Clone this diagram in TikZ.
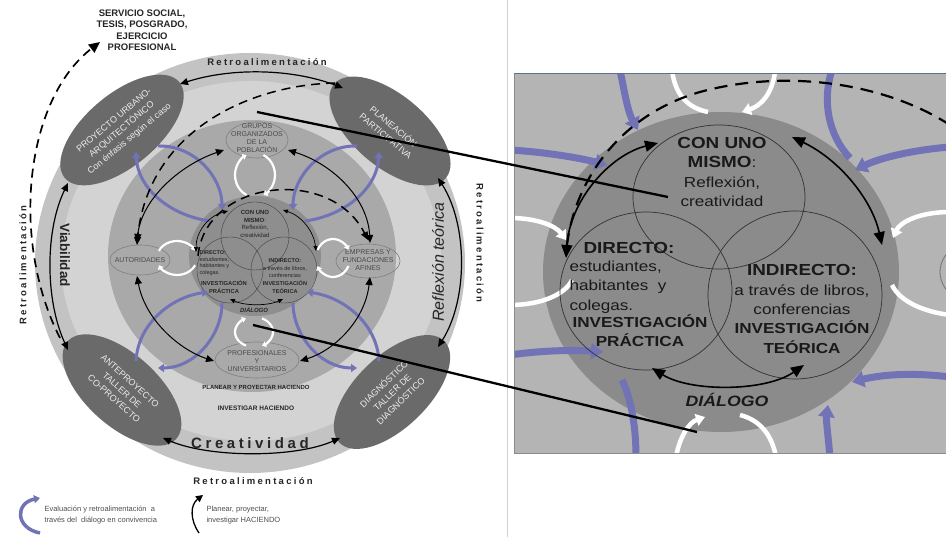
\documentclass[tikz,border=0pt]{standalone}
\usepackage{fontspec}
\setmainfont{Liberation Sans}
\newfontfamily\spacedfont[LetterSpace=24]{Liberation Sans}
\newfontfamily\panelfont[FakeStretch=1.18]{Liberation Sans}
\usetikzlibrary{shapes.geometric,arrows.meta}
\newcommand\myfs[2]{\fontsize{#1}{#2}\selectfont}
\definecolor{ringout}{HTML}{C3C3C3}
\definecolor{ringlight}{HTML}{D3D3D3}
\definecolor{midgrey}{HTML}{A9A9A9}
\definecolor{coregrey}{HTML}{8E8E8E}
\definecolor{ovalgrey}{HTML}{6A6A6A}
\definecolor{loopblue}{HTML}{7272B6}
\definecolor{paneltop}{HTML}{5E6E90}
\definecolor{panelbg}{HTML}{B4B4B4}
\definecolor{panelcore}{HTML}{8B8B8B}
\definecolor{smalltxt}{HTML}{4A4A4A}
\definecolor{sheetline}{HTML}{D0D0D0}
\definecolor{legendtxt}{HTML}{505050}
\begin{document}
\begin{tikzpicture}[x=1pt,y=-1pt,
  blk/.style={line width=1.2pt,{Triangle[length=8pt,width=7pt]}-{Triangle[length=8pt,width=7pt]}},
  blks/.style={line width=0.7pt,{Triangle[length=5pt,width=4pt]}-{Triangle[length=5pt,width=4pt]}},
  dsh/.style={line width=1.5pt,dash pattern=on 9pt off 6pt},
  purp/.style={loopblue,line width=3pt,-{Triangle[length=6pt,width=8pt]}},
  wloop/.style={white,line width=2.2pt,-{Triangle[length=4pt,width=6pt]}},
  venn/.style={draw=black!75,line width=0.4pt},
  smallell/.style={draw=black!50,line width=0.6pt},
  bigoval/.style={ellipse,fill=ovalgrey,text=white!92!black,inner sep=0pt,align=center,font=\myfs{9}{12}},
  stxt/.style={align=center,text=smalltxt,font=\myfs{7}{8.2}},
  ctxt/.style={align=center,text=black!85,font=\myfs{6}{7.5}},
  lbl/.style={font=\spacedfont\bfseries\myfs{9.5}{11},text=black!85},
  ptxt/.style={align=center,text=black!90,font=\panelfont\myfs{14.5}{19.3}},
  pblk/.style={line width=1.6pt,{Triangle[length=13pt,width=11pt]}-{Triangle[length=13pt,width=11pt]}},
  pwhite/.style={white,line width=4.5pt},
  pwhitea/.style={white,line width=4.5pt,-{Triangle[length=9pt,width=12pt]}},
  ppurp/.style={loopblue,line width=7pt},
  ppurpa/.style={loopblue,line width=7pt,-{Triangle[length=12pt,width=16pt]}}
]
\useasboundingbox (0,0) rectangle (946,537);
\fill[white] (0,0) rectangle (946,537);
\draw[sheetline,line width=0.8pt] (507,0) -- (507,537);

% ---------- discs ----------
\fill[ringout] (250,263) ellipse [x radius=215, y radius=210];
\fill[ringlight] (251,261) ellipse [x radius=190, y radius=180];
\fill[midgrey] (252,256) ellipse [x radius=144, y radius=136];
\fill[coregrey] (255,256) ellipse [x radius=66, y radius=60];
\draw[venn] (255,236) circle [radius=34];
\draw[venn] (230,270) circle [radius=33];
\draw[venn] (284,270) circle [radius=33];

% ---------- big ovals ----------
\node[bigoval,minimum width=148pt,minimum height=72pt,rotate=40] (proy) at (122,130) {PROYECTO URBANO-\\ARQUITECTÓNICO\\Con énfasis según el caso};
\node[bigoval,minimum width=146pt,minimum height=72pt,rotate=-40] (plan) at (390,131) {PLANEACIÓN\\PARTICIPATIVA};
\node[bigoval,minimum width=146pt,minimum height=72pt,rotate=-42] (ante) at (122,390) {ANTEPROYECTO\\TALLER DE\\CO-PROYECTO};
\node[bigoval,minimum width=146pt,minimum height=72pt,rotate=44] (diag) at (392,392) {DIAGNÓSTICO\\TALLER DE\\DIAGNÓSTICO};

% ---------- small ellipses ----------
\draw[smallell] (257,140) ellipse [x radius=31, y radius=18];
\node[stxt] (grupos) at (257,138) {GRUPOS\\ORGANIZADOS\\DE LA\\POBLACIÓN};
\draw[smallell] (140,260) ellipse [x radius=30, y radius=15];
\node[stxt] (auto) at (140,260) {AUTORIDADES};
\draw[smallell] (368,261) ellipse [x radius=32, y radius=17];
\node[stxt] (empr) at (368,260) {EMPRESAS Y\\FUNDACIONES\\AFINES};
\draw[smallell] (257,360) ellipse [x radius=42, y radius=18];
\node[stxt] (prof) at (257,361) {PROFESIONALES\\Y\\UNIVERSITARIOS};

% ---------- centre texts ----------
\node[ctxt] (mismo) at (255,224) {\textbf{CON UNO}\\\textbf{MISMO}:\\Reflexión,\\creatividad};
\node[ctxt,align=left,anchor=north west,font=\myfs{5.5}{6.8}] (dirA) at (196,247) {\textbf{DIRECTO:}\\estudiantes,\\habitantes y\\colegas.};
\node[ctxt,font=\myfs{5.8}{7.3}] (dirB) at (224,287) {\textbf{INVESTIGACIÓN}\\\textbf{PRÁCTICA}};
\node[ctxt,font=\myfs{5.6}{7.6}] (indi) at (285,276) {\textbf{INDIRECTO:}\\a través de libros,\\conferencias\\\textbf{INVESTIGACIÓN}\\\textbf{TEÓRICA}};
\node[ctxt,font=\bfseries\itshape\myfs{6}{7}] (dial) at (254,310) {DIÁLOGO};
\node[font=\bfseries\myfs{6}{7},text=black!85] (planear) at (256,387) {PLANEAR Y PROYECTAR HACIENDO};
\node[font=\bfseries\myfs{6.5}{7.5},text=black!85] (invest) at (256,408) {INVESTIGAR HACIENDO};

% ---------- purple loops ----------
\draw[purp] (158,146) .. controls (195,145) and (222,178) .. (222,210);
\draw[purp] (210,221) .. controls (172,216) and (138,190) .. (136,152);
\draw[purp] (357,146) .. controls (320,145) and (293,178) .. (293,210);
\draw[purp] (305,221) .. controls (343,216) and (377,190) .. (379,152);
\draw[purp] (136,361) .. controls (138,323) and (172,297) .. (208,292);
\draw[purp] (222,303) .. controls (222,335) and (195,368) .. (158,368);
\draw[purp] (379,361) .. controls (377,323) and (343,297) .. (307,292);
\draw[purp] (293,303) .. controls (293,335) and (320,368) .. (357,368);

% ---------- white loops ----------
\draw[wloop] (255,175) ++(115:20 and 22) arc[start angle=115,end angle=245,x radius=20,y radius=22];
\draw[wloop] (255,175) ++(295:20 and 22) arc[start angle=295,end angle=425,x radius=20,y radius=22];
\draw[wloop] (177,258) ++(205:20 and 17) arc[start angle=205,end angle=335,x radius=20,y radius=17];
\draw[wloop] (177,258) ++(25:20 and 17) arc[start angle=25,end angle=155,x radius=20,y radius=17];
\draw[wloop] (333,258) ++(205:17 and 19) arc[start angle=205,end angle=335,x radius=17,y radius=19];
\draw[wloop] (333,258) ++(25:17 and 19) arc[start angle=25,end angle=155,x radius=17,y radius=19];
\draw[wloop] (254,332) ++(115:19 and 15) arc[start angle=115,end angle=245,x radius=19,y radius=15];
\draw[wloop] (254,332) ++(295:19 and 15) arc[start angle=295,end angle=425,x radius=19,y radius=15];

% ---------- black arrows between ovals ----------
\draw[blk] (180,84) .. controls (230,68) and (290,68) .. (343,88);
\draw[blk] (68,183) .. controls (45,230) and (45,300) .. (68,350);
\draw[blk] (438,178) .. controls (468,225) and (468,300) .. (438,347);
\draw[blk] (163,438) .. controls (210,458) and (295,458) .. (340,438);

% ---------- inner arrows ----------
\draw[blk,line width=1pt] (224,150) .. controls (180,165) and (140,200) .. (137,245);
\draw[blk,line width=1pt] (288,150) .. controls (335,165) and (368,200) .. (370,243);
\draw[blk,line width=1pt] (137,276) .. controls (145,320) and (180,350) .. (214,361);
\draw[blk,line width=1pt] (370,277) .. controls (365,320) and (335,350) .. (300,361);
\draw[blks] (196,252) .. controls (196,232) and (208,216) .. (228,211);
\draw[blks] (283,210) .. controls (302,216) and (314,232) .. (316,251);
\draw[blks] (230,299) .. controls (245,306) and (268,306) .. (283,299);

% ---------- dashed arcs ----------
\draw[dsh,-{Triangle[length=8pt,width=7pt]}] (335,83) .. controls (250,85) and (150,130) .. (137,242);
\draw[dsh,-{Triangle[length=8pt,width=7pt]}] (198,256) .. controls (205,180) and (330,165) .. (368,240);
\draw[dsh,line width=1.7pt,-{Triangle[length=11pt,width=10pt]}] (60,338) .. controls (10,240) and (25,100) .. (100,42);

% ---------- labels ----------
\node[font=\bfseries\myfs{9.5}{11.5},align=center,text=black!85] (serv) at (142,30) {SERVICIO SOCIAL,\\TESIS, POSGRADO,\\EJERCICIO\\PROFESIONAL};
\node[lbl] (rtop) at (267,62) {Retroalimentación};
\node[lbl] (rbot) at (253,481) {Retroalimentación};
\node[lbl,rotate=-90] (rright) at (480,243) {Retroalimentación};
\node[lbl,rotate=90] (rleft) at (23,265) {Retroalimentación};
\node[font=\bfseries\myfs{13.5}{15},text=black!85,rotate=-90] (viab) at (65,255) {Viabilidad};
\node[font=\itshape\myfs{16}{18},text=black!85,rotate=90] (refl) at (438,262) {Reflexión teórica};
\node[font=\spacedfont\bfseries\myfs{15}{17},text=black!85] (crea) at (250,443) {Creatividad};

% ---------- legend ----------
\draw[purp,line width=3.5pt] (40,533) .. controls (15,528) and (15,503) .. (40,498);
\node[anchor=west,align=left,text=legendtxt,font=\myfs{7.5}{11}] (leg1) at (41,515.5) {Evaluación y retroalimentación\ \ a\\través del\ \ diálogo en convivencia};
\draw[line width=1.3pt,-{Triangle[length=7pt,width=7pt]}] (199,533) .. controls (190,520) and (190,505) .. (203,495);
\node[anchor=west,align=left,text=legendtxt,font=\myfs{7.5}{11}] (leg2) at (203,515.5) {Planear, proyectar,\\investigar HACIENDO};

% ---------- zoom panel ----------
\begin{scope}
\clip (514,74) rectangle (946,453);
\fill[panelbg] (514,74) rectangle (946,453);
\fill[panelcore] (721,272) ellipse [x radius=178, y radius=160];
\draw[draw=black!55,line width=0.8pt] (1000,272) ellipse [x radius=60, y radius=40];
% purple
\draw[ppurpa] (620,70) .. controls (625,95) and (628,112) .. (638,130);
\draw[ppurpa] (510,150) .. controls (545,152) and (580,158) .. (607,165);
\draw[ppurp] (832,70) .. controls (822,100) and (828,135) .. (850,158);
\draw[ppurpa] (950,147) .. controls (912,150) and (880,158) .. (855,170);
\draw[ppurpa] (510,355) .. controls (545,350) and (575,350) .. (603,352);
\draw[ppurp] (622,380) .. controls (632,400) and (636,430) .. (636,457);
\draw[ppurpa] (950,377) .. controls (910,372) and (880,375) .. (852,382);
\draw[ppurpa] (830,457) .. controls (828,435) and (826,420) .. (828,405);
% white
\draw[pwhite] (672,70) .. controls (675,95) and (688,108) .. (708,112);
\draw[pwhitea] (775,72) .. controls (772,95) and (760,106) .. (742,112);
\draw[pwhitea] (510,218) .. controls (535,218) and (555,225) .. (566,240);
\draw[pwhite] (572,280) .. controls (565,295) and (540,305) .. (510,305);
\draw[pwhitea] (950,212) .. controls (920,212) and (900,222) .. (893,238);
\draw[pwhite] (892,285) .. controls (900,302) and (925,312) .. (950,315);
\draw[pwhitea] (676,457) .. controls (680,435) and (690,422) .. (705,417);
\draw[pwhite] (740,415) .. controls (760,420) and (772,435) .. (776,457);
% venn
\draw[draw=black!80,line width=0.7pt] (719,197) ellipse [x radius=86, y radius=72];
\draw[draw=black!80,line width=0.7pt] (646,291) ellipse [x radius=86, y radius=79];
\draw[draw=black!80,line width=0.7pt] (795,295) ellipse [x radius=87, y radius=84];
% dashed
\draw[line width=2.2pt,dash pattern=on 13pt off 8pt] (950,125) .. controls (880,80) and (780,70) .. (700,92) .. controls (620,115) and (575,180) .. (567,245);
% arrows
\draw[pblk] (566,258) .. controls (570,200) and (610,155) .. (658,143);
\draw[pblk] (792,137) .. controls (840,160) and (872,200) .. (882,245);
\draw[pblk] (652,368) .. controls (690,392) and (765,392) .. (804,365);
% texts
\node[ptxt] (pmismo) at (722,172) {\textbf{\myfs{16}{19.8}CON UNO}\\\textbf{\myfs{16}{19.8}MISMO}:\\Reflexión,\\creatividad};
\node[ptxt,font=\panelfont\bfseries\myfs{16}{19}] (pdir) at (629,248) {DIRECTO:};
\node[ptxt,align=left,anchor=west] (pdirb) at (566,287) {estudiantes,\\habitantes\ \ y\\colegas.};
\node[ptxt,font=\panelfont\bfseries\myfs{14.5}{19}] (pdirc) at (640,331) {INVESTIGACIÓN\\PRÁCTICA};
\node[ptxt] (pindi) at (802,309) {\textbf{\myfs{16}{19.3}INDIRECTO:}\\a través de libros,\\conferencias\\\textbf{INVESTIGACIÓN}\\\textbf{TEÓRICA}};
\node[ptxt,font=\panelfont\bfseries\itshape\myfs{15}{17}] (pdial) at (727,400) {DIÁLOGO};
\end{scope}
\draw[paneltop,line width=1pt] (514,74) -- (946,74);
\draw[black!45,line width=0.6pt] (514,74) -- (514,453) -- (946,453);

% ---------- zoom lines ----------
\coordinate (zA) at (257,112);
\coordinate (zB) at (668,197);
\coordinate (zC) at (253,325);
\coordinate (zD) at (697,432);
\draw[line width=2.3pt] (zA) -- (zB);
\draw[line width=2.3pt] (zC) -- (zD);
\end{tikzpicture}
\end{document}
